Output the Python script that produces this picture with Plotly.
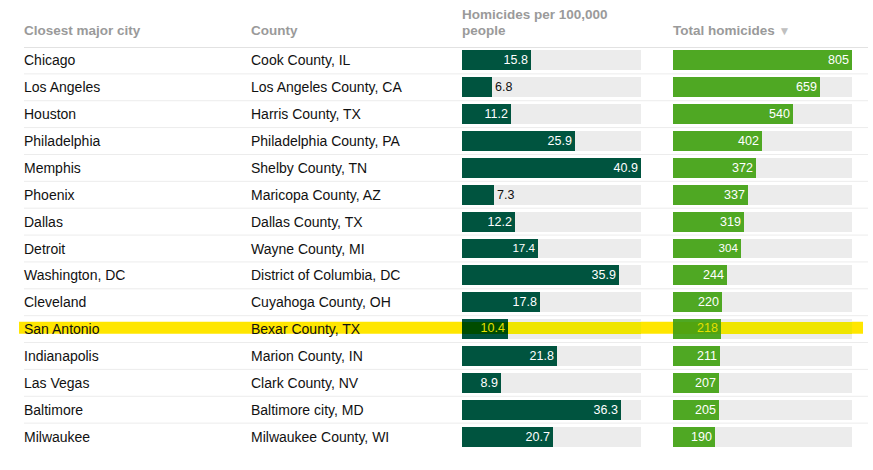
import plotly.graph_objects as go

cities = ["Chicago", "Los Angeles", "Houston", "Philadelphia", "Memphis", "Phoenix",
          "Dallas", "Detroit", "Washington, DC", "Cleveland", "San Antonio",
          "Indianapolis", "Las Vegas", "Baltimore", "Milwaukee"]
counties = ["Cook County, IL", "Los Angeles County, CA", "Harris County, TX",
            "Philadelphia County, PA", "Shelby County, TN", "Maricopa County, AZ",
            "Dallas County, TX", "Wayne County, MI", "District of Columbia, DC",
            "Cuyahoga County, OH", "Bexar County, TX", "Marion County, IN",
            "Clark County, NV", "Baltimore city, MD", "Milwaukee County, WI"]
rate = [15.8, 6.8, 11.2, 25.9, 40.9, 7.3, 12.2, 17.4, 35.9, 17.8, 10.4, 21.8, 8.9, 36.3, 20.7]
total = [805, 659, 540, 402, 372, 337, 319, 304, 244, 220, 218, 211, 207, 205, 190]
highlight = "San Antonio"

W, H = 873, 470
n = len(cities)
rows = list(range(n))
hi = cities.index(highlight)

DARK = "#00543f"
GREEN = "#4fa823"
GRAY = "#ececec"
YELLOW = "#ffe600"
FONT = "Liberation Sans, Arial, sans-serif"


def px(x):
    return x / W


col1 = [px(462), px(641)]
col2 = [px(673), px(852)]

fig = go.Figure()
bw = 0.74
band_w, band_off = 0.446, -0.27


def add_column(values, xa, color, color_hi, fmt, positions):
    vmax = max(values)
    # grey track
    fig.add_trace(go.Bar(y=rows, x=[vmax] * n, orientation="h", width=bw,
                         marker=dict(color=GRAY, line_width=0), xaxis=xa, yaxis="y",
                         hoverinfo="skip", showlegend=False))
    # highlight band over the track
    fig.add_trace(go.Bar(y=[hi], x=[vmax], orientation="h", width=band_w, offset=band_off,
                         marker=dict(color="#efe500", line_width=0), xaxis=xa, yaxis="y",
                         hoverinfo="skip", showlegend=False))
    labels = [fmt.format(v) if i != hi else "" for i, v in enumerate(values)]
    fig.add_trace(go.Bar(y=rows, x=values, orientation="h", width=bw,
                         marker=dict(color=color, line_width=0),
                         text=labels, textposition=positions, textangle=0,
                         insidetextanchor="end", cliponaxis=False,
                         insidetextfont=dict(family=FONT, size=12.5, color="white"),
                         outsidetextfont=dict(family=FONT, size=12.5, color="#111111"),
                         xaxis=xa, yaxis="y", hoverinfo="skip", showlegend=False))
    fig.add_trace(go.Bar(y=[hi], x=[values[hi]], orientation="h", width=band_w, offset=band_off,
                         marker=dict(color=color_hi, line_width=0),
                         text=[fmt.format(values[hi])], textposition="inside", textangle=0,
                         insidetextanchor="end", constraintext="none",
                         insidetextfont=dict(family=FONT, size=12.5, color="#e4e000"),
                         xaxis=xa, yaxis="y", hoverinfo="skip", showlegend=False))


add_column(rate, "x", DARK, "#004c00", "{:.1f}",
           ["outside" if v < 8 else "inside" for v in rate])
add_column(total, "x2", GREEN, "#52a410", "{:d}", ["inside"] * n)

shapes = [dict(type="rect", xref="paper", yref="y", x0=px(19), x1=px(863),
               y0=hi + band_off, y1=hi + band_off + band_w,
               fillcolor=YELLOW, line_width=0, layer="below")]
for k in range(n):
    shapes.append(dict(type="line", xref="paper", yref="y", x0=px(24), x1=px(868),
                       y0=k - 0.5, y1=k - 0.5,
                       line=dict(color="#e2e2e2" if k == 0 else "#ececec",
                                 width=2 if k == 0 else 1),
                       layer="below"))

annotations = []
for i in rows:
    annotations.append(dict(x=px(22), y=i, xref="paper", yref="y", text=cities[i],
                            xanchor="left", yanchor="middle", showarrow=False,
                            font=dict(family=FONT, size=14, color="#111111")))
    annotations.append(dict(x=px(249), y=i, xref="paper", yref="y", text=counties[i],
                            xanchor="left", yanchor="middle", showarrow=False,
                            font=dict(family=FONT, size=14, color="#111111")))

hdr_font = dict(family=FONT, size=13.5, color="#9a9a9a")
top, bottom = 46.5, 450.5


def py(y):
    return (bottom - y) / (bottom - top)


headers = [(22, 30, "<b>Closest major city</b>"),
           (249, 30, "<b>County</b>"),
           (460, 14, "<b>Homicides per 100,000</b>"),
           (460, 30, "<b>people</b>"),
           (671, 30, "<b>Total homicides</b> <span style='color:#c0c0c0;font-size:12px'>▼</span>")]
for x, y, t in headers:
    annotations.append(dict(x=px(x), y=py(y), xref="paper", yref="paper", text=t,
                            xanchor="left", yanchor="middle", align="left",
                            showarrow=False, font=hdr_font))

fig.update_layout(
    width=W, height=H,
    margin=dict(l=0, r=0, t=top, b=H - bottom),
    paper_bgcolor="white", plot_bgcolor="rgba(0,0,0,0)",
    barmode="overlay", bargap=0,
    xaxis=dict(domain=col1, range=[0, max(rate)], visible=False, fixedrange=True),
    xaxis2=dict(domain=col2, range=[0, max(total)], visible=False, fixedrange=True),
    yaxis=dict(range=[n - 0.5, -0.5], visible=False, fixedrange=True),
    shapes=shapes, annotations=annotations,
    font=dict(family=FONT),
)

# drop the default 8px body margin so the figure fills the window
fig.write_html("out.html", config={"displayModeBar": False},
               post_script="document.body.style.margin='0';")
